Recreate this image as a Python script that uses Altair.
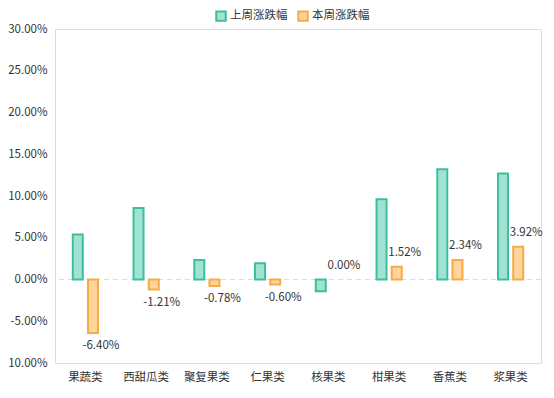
import altair as alt
import pandas as pd

categories = ["果蔬类", "西甜瓜类", "聚复果类", "仁果类", "核果类", "柑果类", "香蕉类", "浆果类"]
last_week = [5.40, 8.55, 2.35, 1.95, -1.40, 9.60, 13.20, 12.70]
this_week = [-6.40, -1.21, -0.78, -0.60, 0.00, 1.52, 2.34, 3.92]
series_names = ["上周涨跌幅", "本周涨跌幅"]

rows = []
for c, a, b in zip(categories, last_week, this_week):
    rows.append({"cat": c, "series": series_names[0], "v": a / 100})
    rows.append({"cat": c, "series": series_names[1], "v": b / 100})
df = pd.DataFrame(rows)

FONT = "Noto Sans CJK SC"
TXT = "#333333"
FMT = "replace(format(datum.value, '.2%'), '\u2212', '-')"

x_enc = alt.X("cat:N", sort=categories, title=None,
              scale=alt.Scale(paddingInner=0, paddingOuter=0),
              axis=alt.Axis(labelAngle=0, domain=False, ticks=False, grid=False,
                            labelFont=FONT, labelFontSize=11.5, labelColor=TXT, labelPadding=8))
y_scale = alt.Scale(domain=[-0.10, 0.30], nice=False, zero=False)
y_enc = alt.Y("v:Q", title=None, scale=y_scale,
              axis=alt.Axis(values=[-0.10, -0.05, 0, 0.05, 0.10, 0.15, 0.20, 0.25, 0.30],
                            labelExpr=FMT, domain=False, ticks=False, grid=False,
                            labelFont=FONT, labelFontSize=11.5, labelColor=TXT, labelPadding=8))
xoff = alt.XOffset("series:N", sort=series_names,
                   scale=alt.Scale(domain=series_names, paddingInner=0, paddingOuter=1))

leg = alt.Legend(orient="none", legendX=160, legendY=-19, direction="horizontal",
                 symbolType="square", symbolSize=90, symbolStrokeWidth=2,
                 labelFont=FONT, labelFontSize=11.5, labelColor=TXT,
                 columnPadding=6, labelOffset=3)

bars = alt.Chart(df).transform_filter("datum.v != 0").mark_bar(size=10, strokeWidth=2).encode(
    x=x_enc,
    xOffset=xoff,
    y=y_enc,
    y2=alt.datum(0),
    fill=alt.Fill("series:N", sort=series_names, title=None,
                  scale=alt.Scale(domain=series_names, range=["#a2e2d3", "#ffd59e"]),
                  legend=leg),
    stroke=alt.Stroke("series:N", sort=series_names, title=None,
                      scale=alt.Scale(domain=series_names, range=["#3cbf9f", "#f7aa45"]),
                      legend=leg),
)

zero = alt.Chart(pd.DataFrame({"z": [0.0]})).mark_rule(color="#dddddd", strokeDash=[5, 4], strokeWidth=1).encode(
    y=alt.Y("z:Q", scale=y_scale)
)

this_df = df[df["series"] == series_names[1]]
txt_base = alt.Chart(this_df).transform_calculate(
    lbl="replace(format(datum.v, '.2%'), '\u2212', '-')"
)
lbl_pos = txt_base.transform_filter("datum.v >= 0").mark_text(
    dy=-14, dx=8, font=FONT, fontSize=11.5, color=TXT
).encode(x=alt.X("cat:N", sort=categories), xOffset=xoff, y=alt.Y("v:Q", scale=y_scale),
         text=alt.Text("lbl:N"))
lbl_neg = txt_base.transform_filter("datum.v < 0").mark_text(
    dy=13, dx=8, font=FONT, fontSize=11.5, color=TXT
).encode(x=alt.X("cat:N", sort=categories), xOffset=xoff, y=alt.Y("v:Q", scale=y_scale),
         text=alt.Text("lbl:N"))

chart = alt.layer(zero, bars, lbl_pos, lbl_neg).properties(
    width=486, height=334,
    padding={"left": 47, "top": 21, "right": 5, "bottom": 27},
    autosize=alt.AutoSizeParams(type="none"),
).configure_view(stroke="#dddddd", strokeDash=[5, 4], strokeWidth=1
).configure(background="white")

chart.save("out.html", embed_options={"renderer": "svg", "actions": False})
